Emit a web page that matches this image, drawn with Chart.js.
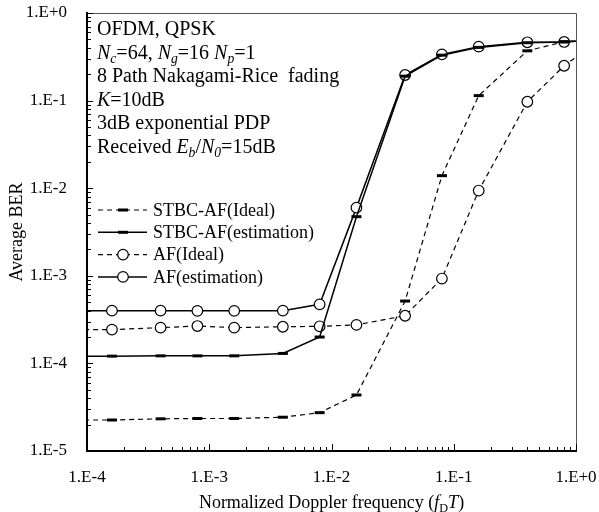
<!DOCTYPE html>
<html>
<head>
<meta charset="utf-8">
<script src="https://cdn.jsdelivr.net/npm/chart.js@4"></script>
<style>
  html, body { margin: 0; padding: 0; background: #fff; }
  #wrap { width: 599px; height: 512px; }
</style>
</head>
<body>
<div id="wrap"><canvas id="berChart" width="599" height="512"></canvas></div>
<script>
// ---- data ----
// first and last points sit just outside the axis range, so the lines run to the frame
const fdT = [0.00008, 0.00016, 0.0004, 0.0008, 0.0016, 0.004, 0.008, 0.016, 0.04, 0.08, 0.16, 0.4, 0.8, 1.6]
const stbcIdeal = [2.26e-5, 2.26e-5, 2.33e-5, 2.35e-5, 2.35e-5, 2.43e-5, 2.74e-5, 4.36e-5, 5.15e-4, 1.39e-2, 0.114, 0.37, 0.47, 0.5]
const stbcEst = [1.21e-4, 1.21e-4, 1.22e-4, 1.22e-4, 1.22e-4, 1.3e-4, 2.0e-4, 4.73e-3, 0.19, 0.33, 0.405, 0.458, 0.468, 0.5]
const afIdeal = [2.43e-4, 2.43e-4, 2.56e-4, 2.67e-4, 2.56e-4, 2.62e-4, 2.65e-4, 2.75e-4, 3.5e-4, 9.3e-4, 9.4e-3, 0.097, 0.25, 0.5]
const afEst = [4.0e-4, 4.0e-4, 4.0e-4, 3.98e-4, 3.98e-4, 4.0e-4, 4.72e-4, 6.0e-3, 0.196, 0.337, 0.413, 0.463, 0.467, 0.5]
const seriesNames = ['STBC-AF(Ideal)', 'STBC-AF(estimation)', 'AF(Ideal)', 'AF(estimation)']

const xDecades = [1e-4, 1e-3, 1e-2, 1e-1, 1]
const xTickLabels = ['1.E-4', '1.E-3', '1.E-2', '1.E-1', '1.E+0']
const yDecades = [1e-5, 1e-4, 1e-3, 1e-2, 1e-1, 1]
const yTickLabels = ['1.E-5', '1.E-4', '1.E-3', '1.E-2', '1.E-1', '1.E+0']

const SERIF = "'Liberation Serif', 'Times New Roman', serif"

// 1..9 x 10^n between the decades
function logTicks(decades) {
  const out = []
  decades.forEach((d, i) => {
    if (i === decades.length - 1) { out.push({ value: d }); return }
    for (let m = 1; m <= 9; m++) out.push({ value: d * m })
  })
  return out
}

function pts(ys) { return fdT.map((x, i) => ({ x, y: ys[i] })) }

// text with italic / subscript runs
function richText(ctx, x, y, runs, size, align) {
  const fontOf = st => (st.endsWith('i') ? 'italic ' : '') + (st.startsWith('s') ? size * 0.68 : size) + 'px ' + SERIF
  let w = 0
  runs.forEach(([t, st]) => { ctx.font = fontOf(st); w += ctx.measureText(t).width })
  let cx = align === 'center' ? x - w / 2 : x
  ctx.textAlign = 'left'
  ctx.textBaseline = 'alphabetic'
  runs.forEach(([t, st]) => {
    ctx.font = fontOf(st)
    ctx.fillText(t, cx, st.startsWith('s') ? y + size * 0.22 : y)
    cx += ctx.measureText(t).width
  })
}

const noteLines = [
  [['OFDM, QPSK', 'n']],
  [['N', 'i'], ['c', 'si'], ['=64, ', 'n'], ['N', 'i'], ['g', 'si'], ['=16 ', 'n'], ['N', 'i'], ['p', 'si'], ['=1', 'n']],
  [['8 Path Nakagami-Rice  fading', 'n']],
  [['K', 'i'], ['=10dB', 'n']],
  [['3dB exponential PDP', 'n']],
  [['Received ', 'n'], ['E', 'i'], ['b', 'si'], ['/', 'n'], ['N', 'i'], ['0', 'si'], ['=15dB', 'n']]
]
const xTitle = [['Normalized Doppler frequency (', 'n'], ['f', 'i'], ['D', 's'], ['T', 'i'], [')', 'n']]

// frame, inward ticks, notes, legend, x title
const decorPlugin = {
  id: 'decor',
  afterDraw(chart) {
    const { ctx, chartArea: a, scales: { x, y } } = chart
    ctx.save()
    ctx.strokeStyle = '#555'
    ctx.lineWidth = 1
    ctx.beginPath()
    ctx.moveTo(a.left, a.top + 0.5); ctx.lineTo(a.right + 0.5, a.top + 0.5); ctx.lineTo(a.right + 0.5, a.bottom)
    ctx.stroke()

    ctx.strokeStyle = '#000'
    ctx.lineWidth = 1
    x.ticks.forEach(t => {
      const px = Math.round(x.getPixelForValue(t.value)) + 0.5
      const len = xDecades.includes(t.value) ? 7 : 4
      ctx.beginPath(); ctx.moveTo(px, a.bottom); ctx.lineTo(px, a.bottom - len); ctx.stroke()
    })
    y.ticks.forEach(t => {
      const py = Math.round(y.getPixelForValue(t.value)) + 0.5
      const len = yDecades.includes(t.value) ? 6 : 4
      ctx.beginPath(); ctx.moveTo(a.left, py); ctx.lineTo(a.left + len, py); ctx.stroke()
    })

    ctx.fillStyle = '#000'
    noteLines.forEach((runs, i) => richText(ctx, 97, 35 + i * 23.6, runs, 20))
    richText(ctx, (a.left + a.right) / 2, 508, xTitle, 18, 'center')

    // legend
    const x1 = 98, x2 = 147, mx = 123
    chart.data.datasets.forEach((ds, i) => {
      const ly = 210 + i * 22.3
      ctx.strokeStyle = '#000'
      ctx.lineWidth = ds.borderWidth
      ctx.setLineDash(ds.borderDash || [])
      ctx.beginPath(); ctx.moveTo(x1, ly); ctx.lineTo(x2, ly); ctx.stroke()
      ctx.setLineDash([])
      if (ds.pointStyle === 'circle') {
        ctx.fillStyle = '#fff'
        ctx.lineWidth = ds.pointBorderWidth
        ctx.beginPath(); ctx.arc(mx, ly, ds.pointRadius, 0, Math.PI * 2); ctx.fill(); ctx.stroke()
      } else {
        ctx.lineWidth = ds.pointBorderWidth
        ctx.beginPath(); ctx.moveTo(mx - ds.pointRadius, ly); ctx.lineTo(mx + ds.pointRadius, ly); ctx.stroke()
      }
      ctx.fillStyle = '#000'
      ctx.font = '18px ' + SERIF
      ctx.textAlign = 'left'
      ctx.textBaseline = 'middle'
      ctx.fillText(seriesNames[i], 153, ly + 1)
    })
    ctx.restore()
  }
}

const dashStyle = { borderDash: [5, 4], borderWidth: 1.2 }
const solidStyle = { borderDash: [], borderWidth: 1.5 }
const barMark = { pointStyle: 'line', pointRadius: 5, pointBorderWidth: 3 }
const ringMark = { pointStyle: 'circle', pointRadius: 5.3, pointBorderWidth: 1.2, pointBackgroundColor: '#fff' }

// invisible tick marks push the labels off the axis without adding layout padding
const hiddenTicks = len => ({ display: true, drawOnChartArea: false, drawTicks: true, tickLength: len, tickColor: 'rgba(0,0,0,0)' })

const ctx = document.getElementById('berChart').getContext('2d')
new Chart(ctx, {
  type: 'line',
  data: {
    datasets: [
      { label: seriesNames[0], data: pts(stbcIdeal), ...dashStyle, ...barMark },
      { label: seriesNames[1], data: pts(stbcEst), ...solidStyle, ...barMark },
      { label: seriesNames[2], data: pts(afIdeal), ...dashStyle, ...ringMark },
      { label: seriesNames[3], data: pts(afEst), ...solidStyle, ...ringMark }
    ].map(d => ({ ...d, borderColor: '#000', pointBorderColor: '#000', tension: 0, fill: false }))
  },
  options: {
    responsive: false,
    animation: false,
    layout: { padding: { top: 13, right: 23, left: 0, bottom: 0 } },
    plugins: { legend: { display: false }, tooltip: { enabled: false } },
    scales: {
      x: {
        type: 'logarithmic',
        min: 1e-4,
        max: 1,
        afterBuildTicks: s => { s.ticks = logTicks(xDecades) },
        afterFit: s => { s.height = 61 },
        grid: hiddenTicks(16),
        border: { display: true, color: '#000', width: 2 },
        ticks: {
          autoSkip: false,
          maxRotation: 0,
          padding: 0,
          color: '#000',
          font: { family: SERIF, size: 17 },
          callback: v => { const i = xDecades.indexOf(v); return i >= 0 ? xTickLabels[i] : '' }
        }
      },
      y: {
        type: 'logarithmic',
        min: 1e-5,
        max: 1,
        afterBuildTicks: s => { s.ticks = logTicks(yDecades) },
        afterFit: s => { s.width = 87 },
        grid: hiddenTicks(20),
        border: { display: true, color: '#000', width: 2 },
        title: { display: true, text: 'Average BER', color: '#000', font: { family: SERIF, size: 18 }, padding: { top: 6, bottom: 0 } },
        ticks: {
          autoSkip: false,
          padding: 0,
          color: '#000',
          font: { family: SERIF, size: 17 },
          callback: v => { const i = yDecades.indexOf(v); return i >= 0 ? yTickLabels[i] : '' }
        }
      }
    }
  },
  plugins: [decorPlugin]
})
</script>
</body>
</html>
